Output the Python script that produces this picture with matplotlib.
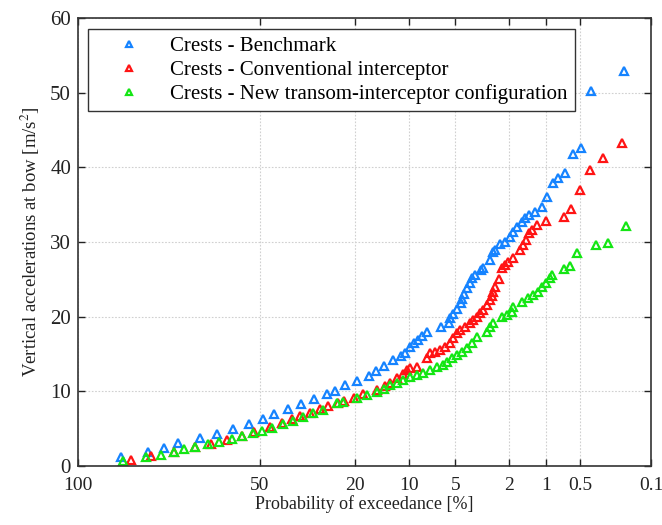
import numpy as np
import matplotlib
matplotlib.use("Agg")
import matplotlib.pyplot as plt

plt.rcParams["font.family"] = ["Liberation Serif", "DejaVu Serif"]
plt.rcParams["mathtext.fontset"] = "stix"

# ===== data: probability of exceedance [%] and crest value [m/s^2] =====
bench_p = [96.2, 90.3, 85.6, 80.9, 73.1, 66.7, 60.5, 54.2, 48.6, 44.7, 39.7, 35.1, 31.0, 27.2,
           24.8, 22.2, 19.4, 16.9, 15.4, 13.9, 12.4, 11.1, 10.6, 9.84, 9.30, 8.80, 8.34, 7.74,
           6.25, 5.50, 5.44, 5.16, 4.87, 4.59, 4.49, 4.38, 4.16, 3.94, 3.79, 3.63, 3.30, 3.15,
           2.81, 2.65, 2.58, 2.36, 2.16, 1.97, 1.86, 1.74, 1.59, 1.49, 1.38, 1.23, 1.08, 0.97,
           0.87, 0.78, 0.68, 0.58, 0.49, 0.39, 0.19]
bench_y = [1.14, 1.85, 2.41, 3.04, 3.72, 4.35, 5.02, 5.58, 6.25, 6.96, 7.60, 8.26, 8.93, 9.64,
           10.04, 10.82, 11.45, 12.07, 12.69, 13.43, 14.19, 14.73, 15.13, 15.93, 16.47, 16.87,
           17.40, 17.94, 18.61, 19.14, 19.81, 20.35, 21.02, 21.78, 22.42, 23.09, 23.79, 24.46,
           25.13, 25.57, 26.24, 26.55, 27.58, 28.65, 28.92, 29.68, 30.03, 30.70, 31.37, 32.03,
           32.70, 33.16, 33.60, 34.04, 34.67, 35.97, 37.84, 38.59, 39.26, 41.81, 42.53, 50.24,
           52.92]

conv_p = [94.3, 89.3, 82.4, 75.0, 68.9, 62.8, 56.9, 52.1, 46.0, 41.8, 38.0, 35.5, 32.2, 29.2,
          26.8, 24.0, 22.6, 20.1, 18.0, 15.3, 13.8, 12.9, 11.8, 10.8, 10.3, 9.83, 8.95, 7.74,
          7.37, 6.84, 6.35, 5.88, 5.44, 5.16, 4.89, 4.64, 4.28, 3.94, 3.73, 3.53, 3.34, 3.15,
          2.97, 2.81, 2.73, 2.65, 2.58, 2.39, 2.29, 2.16, 2.03, 1.88, 1.64, 1.54, 1.47, 1.38,
          1.31, 1.19, 1.00, 0.70, 0.60, 0.50, 0.40, 0.30, 0.20]
conv_y = [0.80, 1.37, 1.91, 2.48, 3.01, 3.52, 4.02, 4.55, 5.19, 5.76, 6.25, 6.69, 7.05, 7.59,
          7.97, 8.37, 8.74, 9.17, 9.67, 10.21, 10.71, 11.15, 11.74, 12.38, 12.85, 13.08, 13.29,
          14.42, 15.09, 15.30, 15.53, 15.97, 16.43, 17.10, 17.76, 18.21, 18.65, 19.10, 19.54,
          19.99, 20.44, 20.88, 21.55, 22.22, 22.76, 23.33, 24.00, 24.99, 26.47, 26.91, 27.35,
          27.80, 28.92, 29.58, 30.25, 31.15, 31.59, 32.26, 32.84, 33.37, 34.36, 36.95, 39.63,
          41.19, 43.31]

new_p = [95.8, 90.7, 86.6, 82.5, 78.9, 75.0, 70.0, 65.7, 60.7, 56.9, 52.4, 49.2, 45.4, 41.4,
         37.9, 34.4, 31.2, 28.2, 24.5, 22.7, 19.5, 17.3, 15.3, 13.9, 12.9, 11.8, 10.8, 9.83,
         8.95, 8.13, 7.37, 6.67, 6.03, 5.72, 5.30, 4.89, 4.51, 4.16, 3.83, 3.53, 2.97, 2.81,
         2.65, 2.29, 2.09, 1.91, 1.86, 1.59, 1.40, 1.28, 1.16, 1.08, 1.00, 0.93, 0.88, 0.70,
         0.61, 0.53, 0.35, 0.27, 0.18]
new_y = [0.70, 1.14, 1.41, 1.85, 2.24, 2.58, 2.90, 3.21, 3.64, 4.02, 4.42, 4.73, 5.05, 5.58,
         6.06, 6.60, 7.05, 7.50, 8.39, 8.61, 9.06, 9.50, 9.95, 10.37, 10.84, 11.18, 11.51,
         11.87, 12.18, 12.49, 12.85, 13.21, 13.52, 13.96, 14.42, 14.86, 15.30, 15.76, 16.43,
         17.31, 17.98, 18.65, 19.10, 19.99, 20.21, 20.66, 21.33, 21.99, 22.45, 22.89, 23.33,
         24.00, 24.50, 25.13, 25.64, 26.37, 26.77, 28.51, 29.58, 29.89, 32.13]

x_ticks = [100, 50, 20, 10, 5, 2, 1, 0.5, 0.1]
x_tick_labels = ["100", "50", "20", "10", "5", "2", "1", "0.5", "0.1"]
y_ticks = [0, 10, 20, 30, 40, 50, 60]


# ===== Rayleigh probability scale =====
def fwd(p):
    p = np.clip(np.asarray(p, dtype=float), 1e-9, 100.0)
    return -np.sqrt(-np.log(p / 100.0))


def inv(z):
    return 100.0 * np.exp(-np.asarray(z, dtype=float) ** 2)


fig = plt.figure(figsize=(6.62, 5.25), dpi=100)
ax = fig.add_axes([0.1178, 0.1124, 0.8656, 0.8533])
ax.set_xscale("function", functions=(fwd, inv))

mk = dict(marker="^", linestyle="none", markerfacecolor="none", markersize=5.5, markeredgewidth=1.6)
ax.plot(bench_p, bench_y, color="#1583FF", label="Crests - Benchmark", **mk)
ax.plot(conv_p, conv_y, color="#FF1414", label="Crests - Conventional interceptor", **mk)
ax.plot(new_p, new_y, color="#14E614", label="Crests - New transom-interceptor configuration", **mk)

ax.set_xlim(100, 0.1)
ax.set_ylim(0, 60)
ax.set_xticks(x_ticks)
ax.set_xticklabels(x_tick_labels)
ax.xaxis.set_minor_locator(matplotlib.ticker.NullLocator())
ax.set_yticks(y_ticks)

ax.grid(True, linestyle=(0, (1.5, 1.5)), color="#d0d0d0", linewidth=0.8)
ax.tick_params(direction="in", top=True, right=True, length=5, width=1,
               labelsize=15, colors="#222222")
ax.tick_params(axis="x", pad=8, labelsize=14)
ax.tick_params(axis="y", pad=5)
for s in ax.spines.values():
    s.set_color("#333333")
    s.set_linewidth(1.2)

ax.set_xlabel("Probability of exceedance [%]", fontsize=13, color="#222222", labelpad=1)
ax.set_ylabel("Vertical accelerations at bow [m/s$^2$]", fontsize=13.5, color="#222222", labelpad=6)

leg = ax.legend(loc="upper left", bbox_to_anchor=(0.017, 0.975), fontsize=15,
                fancybox=False, edgecolor="#333333", framealpha=1, markerscale=0.8,
                handlelength=3.3, handletextpad=0.3, borderpad=0.35, labelspacing=0.2,
                borderaxespad=0)
leg.get_frame().set_linewidth(1.0)

fig.savefig("out.png", dpi=100)
